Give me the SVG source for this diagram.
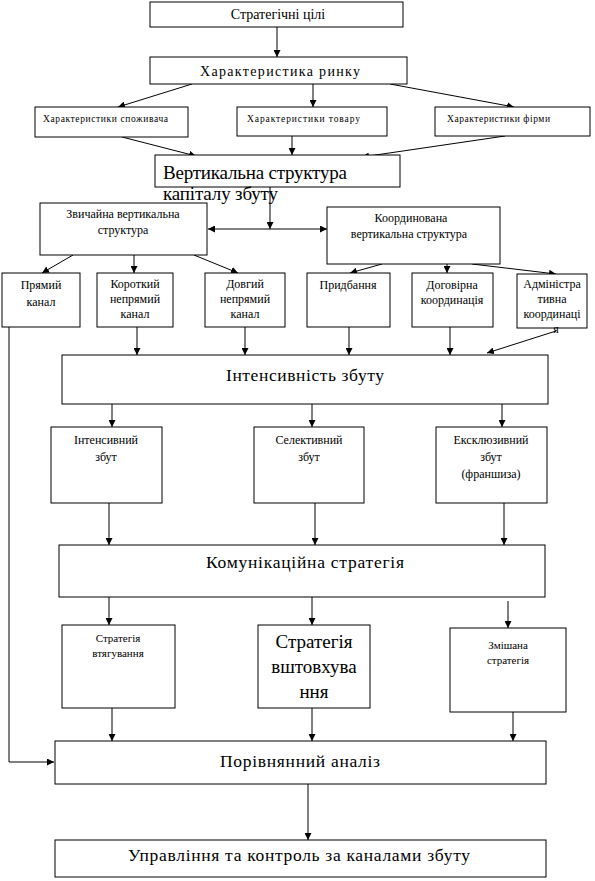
<svg xmlns="http://www.w3.org/2000/svg" width="595" height="881" viewBox="0 0 595 881">
<style>
rect{fill:#fff;stroke:#000;stroke-width:1}
.c{text-anchor:middle}
.s8{font-size:9.5px}
.s10{font-size:11px}
.s11{font-size:12px}
.s13{font-size:14px}
.s16{font-size:17.5px}
.s18{font-size:19px}
#connectors line,#connectors polyline{stroke:#000;stroke-width:1;fill:none}
</style>
<defs>
<marker id="ah" viewBox="0 0 8 8" refX="8" refY="4" markerWidth="7" markerHeight="7" markerUnits="userSpaceOnUse" orient="auto">
<path d="M0,0 L8,4 L0,8 z" fill="#000"/>
</marker>
<marker id="ahs" viewBox="0 0 8 8" refX="0" refY="4" markerWidth="7" markerHeight="7" markerUnits="userSpaceOnUse" orient="auto">
<path d="M8,0 L0,4 L8,8 z" fill="#000"/>
</marker>
</defs>
<rect x="0" y="0" width="595" height="881" style="stroke:none"/>

<g id="connectors">
<line x1="277" y1="27" x2="277" y2="57" marker-end="url(#ah)"/>
<line x1="192" y1="84" x2="118" y2="107" marker-end="url(#ah)"/>
<line x1="313" y1="84" x2="313" y2="107" marker-end="url(#ah)"/>
<line x1="390" y1="84" x2="514" y2="107" marker-end="url(#ah)"/>
<line x1="122" y1="137" x2="196" y2="156" marker-end="url(#ah)"/>
<line x1="292" y1="136" x2="292" y2="155" marker-end="url(#ah)"/>
<line x1="505" y1="136" x2="362" y2="157" marker-end="url(#ah)"/>
<line x1="270" y1="187" x2="270" y2="229" marker-end="url(#ah)"/>
<line x1="208" y1="229" x2="327" y2="229" marker-start="url(#ahs)" marker-end="url(#ah)"/>
<line x1="73" y1="255" x2="42" y2="273" marker-end="url(#ah)"/>
<line x1="134" y1="255" x2="134" y2="273" marker-end="url(#ah)"/>
<line x1="194" y1="255" x2="238" y2="273" marker-end="url(#ah)"/>
<line x1="382" y1="264" x2="350" y2="273" marker-end="url(#ah)"/>
<line x1="447" y1="264" x2="447" y2="273" marker-end="url(#ah)"/>
<line x1="472" y1="264" x2="556" y2="274" marker-end="url(#ah)"/>
<polyline points="9,327 9,762 54,762" marker-end="url(#ah)"/>
<line x1="137" y1="327" x2="137" y2="355" marker-end="url(#ah)"/>
<line x1="245" y1="327" x2="245" y2="355" marker-end="url(#ah)"/>
<line x1="349" y1="327" x2="349" y2="355" marker-end="url(#ah)"/>
<line x1="450" y1="327" x2="450" y2="355" marker-end="url(#ah)"/>
<line x1="556" y1="331" x2="487" y2="353" marker-end="url(#ah)"/>
<line x1="112" y1="404" x2="112" y2="427" marker-end="url(#ah)"/>
<line x1="312" y1="404" x2="312" y2="427" marker-end="url(#ah)"/>
<line x1="502" y1="404" x2="502" y2="427" marker-end="url(#ah)"/>
<line x1="109" y1="503" x2="109" y2="545" marker-end="url(#ah)"/>
<line x1="315" y1="503" x2="315" y2="545" marker-end="url(#ah)"/>
<line x1="504" y1="503" x2="504" y2="545" marker-end="url(#ah)"/>
<line x1="109" y1="597" x2="109" y2="625" marker-end="url(#ah)"/>
<line x1="312" y1="597" x2="312" y2="625" marker-end="url(#ah)"/>
<line x1="508" y1="601" x2="508" y2="628" marker-end="url(#ah)"/>
<line x1="112" y1="708" x2="112" y2="741" marker-end="url(#ah)"/>
<line x1="312" y1="708" x2="312" y2="741" marker-end="url(#ah)"/>
<line x1="513" y1="712" x2="513" y2="741" marker-end="url(#ah)"/>
<line x1="308" y1="784" x2="308" y2="840" marker-end="url(#ah)"/>
</g>

<g font-family="'Liberation Serif', 'DejaVu Serif', serif" fill="#000">
<g id="n1"><rect x="150" y="2" width="253" height="25"/><text class="c s13" x="278" y="19">Стратегічні цілі</text></g>
<g id="n2"><rect x="150" y="57" width="257" height="27"/><text class="c s13" x="280" y="76" textLength="160">Характеристика ринку</text></g>
<g id="n3"><rect x="35" y="107" width="153" height="30"/><text class="s8" x="43" y="122" textLength="125">Характеристики споживача</text></g>
<g id="n4"><rect x="237" y="107" width="150" height="29"/><text class="s8" x="247" y="122" textLength="113">Характеристики товару</text></g>
<g id="n5"><rect x="435" y="107" width="155" height="29"/><text class="s8" x="447" y="122" textLength="103">Характеристики фірми</text></g>
<g id="n6"><rect x="155" y="155" width="245" height="32"/><text class="s18" x="163" y="179" textLength="184">Вертикальна структура</text><text class="s18" x="163" y="200" textLength="115">капіталу збуту</text></g>
<g id="n7"><rect x="40" y="203" width="167" height="52"/><text class="c s11" x="123" y="218">Звичайна вертикальна</text><text class="c s11" x="123" y="234">структура</text></g>
<g id="n8"><rect x="327" y="207" width="173" height="57"/><text class="c s11" x="411" y="222">Координована</text><text class="c s11" x="409" y="238">вертикальна структура</text></g>
<g id="n9"><rect x="2" y="273" width="78" height="54"/><text class="c s11" x="41" y="289">Прямий</text><text class="c s11" x="41" y="306">канал</text></g>
<g id="n10"><rect x="97" y="273" width="76" height="54"/><text class="c s11" x="135" y="288">Короткий</text><text class="c s11" x="135" y="303">непрямий</text><text class="c s11" x="135" y="318">канал</text></g>
<g id="n11"><rect x="205" y="273" width="80" height="54"/><text class="c s11" x="245" y="288">Довгий</text><text class="c s11" x="245" y="303">непрямий</text><text class="c s11" x="245" y="318">канал</text></g>
<g id="n12"><rect x="307" y="273" width="83" height="54"/><text class="c s11" x="348" y="289">Придбання</text></g>
<g id="n13"><rect x="412" y="273" width="81" height="54"/><text class="c s11" x="452" y="289">Договірна</text><text class="c s11" x="452" y="304">координація</text></g>
<g id="n14"><rect x="517" y="274" width="70" height="54"/><text class="c s11" x="552" y="288">Адміністра</text><text class="c s11" x="552" y="303">тивна</text><text class="c s11" x="552" y="318">координаці</text><text class="c s11" x="556" y="333">я</text></g>
<g id="n15"><rect x="62" y="355" width="486" height="49"/><text class="c s16" x="305" y="381" textLength="158">Інтенсивність збуту</text></g>
<g id="n16"><rect x="51" y="427" width="111" height="76"/><text class="c s11" x="106" y="444">Інтенсивний</text><text class="c s11" x="106" y="461">збут</text></g>
<g id="n17"><rect x="254" y="427" width="110" height="76"/><text class="c s11" x="309" y="444">Селективний</text><text class="c s11" x="309" y="461">збут</text></g>
<g id="n18"><rect x="436" y="427" width="111" height="76"/><text class="c s11" x="491" y="444">Ексклюзивний</text><text class="c s11" x="491" y="461">збут</text><text class="c s11" x="491" y="478">(франшиза)</text></g>
<g id="n19"><rect x="59" y="545" width="486" height="52"/><text class="c s16" x="305" y="568" textLength="198">Комунікаційна стратегія</text></g>
<g id="n20"><rect x="62" y="625" width="113" height="83"/><text class="c s10" x="118" y="642">Стратегія</text><text class="c s10" x="118" y="657">втягування</text></g>
<g id="n21"><rect x="258" y="625" width="112" height="83"/><text class="c s18" x="314" y="648">Стратегія</text><text class="c s18" x="314" y="673">вштовхува</text><text class="c s18" x="314" y="698">ння</text></g>
<g id="n22"><rect x="450" y="628" width="116" height="84"/><text class="c s10" x="508" y="649">Змішана</text><text class="c s10" x="508" y="664">стратегія</text></g>
<g id="n23"><rect x="55" y="741" width="491" height="43"/><text class="c s16" x="300" y="767" textLength="160">Порівнянний аналіз</text></g>
<g id="n24"><rect x="55" y="840" width="491" height="37"/><text class="c s16" x="299" y="861" textLength="342">Управління та контроль за каналами збуту</text></g>
</g>
</svg>
